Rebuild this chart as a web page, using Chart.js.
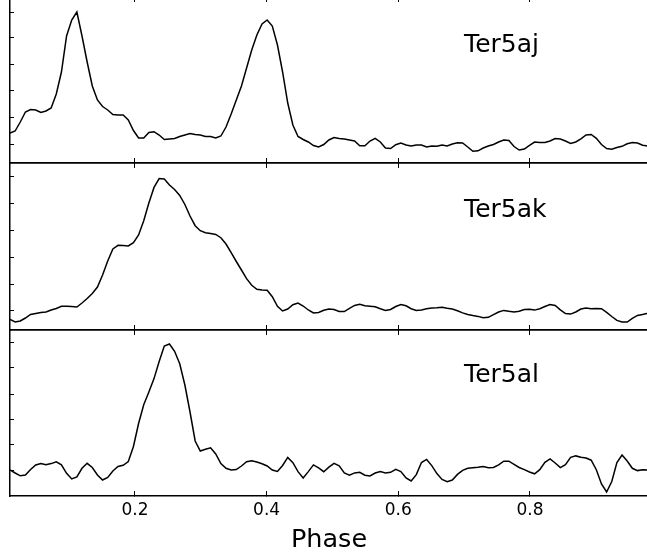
<!DOCTYPE html>
<html>
<head>
<meta charset="utf-8">
<script src="https://cdn.jsdelivr.net/npm/chart.js@4.4.1/dist/chart.umd.min.js"></script>
<style>
  html, body { margin: 0; padding: 0; background: #fff; overflow: hidden; }
  body { width: 647px; height: 558px; position: relative; }
  canvas { position: absolute; left: 0; }
</style>
</head>
<body>
<canvas id="aj" width="660" height="172" style="top:-6px"></canvas>
<canvas id="ak" width="660" height="173" style="top:160px"></canvas>
<canvas id="al" width="660" height="231" style="top:327px"></canvas>
<script>
// pulse profiles, 128 bins per turn, intensity in arbitrary units
const phaseStart = 0.0102;
const binWidth = 1 / 128;
const phaseMin = 0.0102, phaseMax = 0.9793;
const xTicks = [0.2, 0.4, 0.6, 0.8];

const ter5aj = [30,32,41,51,53.5,53,50.5,52,55,69,
  91,127,143,151,127,101,77,63,56.5,53,
  48.5,48,48,43,32.5,25,25,30.5,31.3,28,
  23.5,24,24.5,26.5,28,29.5,28.5,28,26.5,26.5,
  25,27,36,49,63,77,95,113,128,139,
  143,137,118,91,60,38,26.5,23.5,21,17.5,
  16,18.5,23,25.5,24.5,24,23,22,17.3,17.2,
  22,24.7,21,15,14.5,18.3,20,18,17,18,
  18,16,17,16.7,18,17,19,20.2,20,16,
  11.7,12.2,15,17,18.5,21,23,22.5,16.5,13,
  14,17.7,21,20.6,20.5,22,24.5,24,22,19.5,
  21,24.2,28,28.5,24.7,18.5,14.4,13.8,15.5,16.7,
  19.2,20.4,20,17.7,17];

const ter5ak = [10.7,8,9,12,15.5,16.5,17.5,18,20,21.5,
  23.7,23.7,23.5,23,27,31.5,36.5,43,55,69,
  81,84.7,84.4,84,87.3,95,109.3,127,142.6,151.5,
  151,145,140.5,134.5,125.5,114,104.3,99.3,97.3,96.5,
  95.6,92.3,86,77.3,68.5,60,51.3,44.7,40.7,40,
  39.7,33.3,23.7,19,21,25.3,27,24,20,17,
  17.5,19.7,21,20.4,18.5,18.4,21.7,24.6,25.7,24.3,
  23.7,23.2,21.2,19.6,20.5,23.5,25.5,24.2,21.3,19.5,
  20,21.2,22.1,22.3,22.7,21.7,21,19.2,17.1,15.5,
  14.4,13.6,12.2,12.7,15.4,18,19.6,18.7,18,18.8,
  20.4,20.7,19.9,21.3,23.5,25.5,24.6,20.2,16.4,15.9,
  18,21,22,21.3,21.5,21.3,17.7,13.5,9.6,8,
  8,11.6,14.6,15.6,16.7];

const ter5al = [26,23,20.2,21,26.5,31,32.5,31.2,32.4,34.2,
  31.2,22.7,17.1,19,27.7,32.7,28.5,21,16,18.5,
  25,29.5,30.7,34.5,49.5,72.5,91.3,104,117.4,134.5,
  150,152,144.7,132.2,111,84,55,45,46.7,48.2,
  42,32.5,27.7,26,26.5,30,34.3,35.2,34,32.3,
  30,26,24.5,30.5,38.6,33.3,24.4,18,24.4,31.1,
  28.2,24.3,28.9,32.6,30.1,23,20.8,23.1,23.7,20.8,
  20.1,23,24.5,23.1,23.7,26.6,24.5,18,15,21.4,
  33.5,36.6,30.4,22.4,16.5,14.2,16,21.6,25.7,27.8,
  28.3,28.7,29.4,28.3,28.6,31.2,34.8,34.8,31.7,28.5,
  26.4,24,22.2,26.3,33.6,37.1,33,28.4,31.3,38.6,
  40.1,38.8,38,35.8,26.3,12,4,14.5,33.4,41,
  35,27.7,25.4,26.3,26];

const ajTicks = [19, 46, 72, 99, 125, 151];
const akTicks = [19.3, 46, 72.7, 99.3, 126.7, 153.3];
const alTicks = [26, 52, 77, 102, 128, 153];

const phase = ter5aj.map((_, i) => phaseStart + i * binWidth);

const panelLabel = {
  id: 'panelLabel',
  afterDatasetsDraw(chart, args, opts) {
    const { ctx, scales } = chart;
    ctx.save();
    ctx.font = '25px "DejaVu Sans"';
    ctx.fillStyle = '#000';
    ctx.textAlign = 'left';
    ctx.textBaseline = 'alphabetic';
    ctx.fillText(opts.text, scales.x.getPixelForValue(opts.x), scales.y.getPixelForValue(opts.y));
    ctx.restore();
  }
};

function tickAxis(position, showLabels) {
  return {
    type: 'linear',
    position: position,
    min: phaseMin,
    max: phaseMax,
    afterBuildTicks: s => { s.ticks = xTicks.map(v => ({ value: v })); },
    grid: { drawOnChartArea: false, tickLength: -5, color: '#000', lineWidth: 1 },
    border: { display: true, color: '#000', width: 1.5 },
    ticks: {
      display: showLabels,
      color: '#000',
      font: { family: 'DejaVu Sans', size: 17 },
      padding: 9,
      maxRotation: 0,
      autoSkip: false,
      callback: v => v.toFixed(1)
    },
    title: {
      display: showLabels,
      text: 'Phase',
      color: '#000',
      font: { family: 'DejaVu Sans', size: 25.5 },
      padding: { top: 0, bottom: 2 }
    },
    afterFit: s => { s.height = showLabels ? 62 : 0; }
  };
}

function makePanel(id, name, values, yMax, yTicks, labelY, isLast) {
  new Chart(document.getElementById(id), {
    type: 'line',
    data: {
      datasets: [{
        data: values.map((v, i) => ({ x: phase[i], y: v })),
        borderColor: '#000',
        borderWidth: 1.5,
        pointRadius: 0,
        tension: 0,
        fill: false
      }]
    },
    options: {
      responsive: false,
      animation: false,
      devicePixelRatio: 1,
      layout: { padding: { top: 3, bottom: isLast ? 0 : 3, left: 0, right: 12 } },
      plugins: {
        legend: { display: false },
        tooltip: { enabled: false },
        panelLabel: { text: name, x: 0.7, y: labelY }
      },
      scales: {
        x: tickAxis('bottom', isLast),
        xTop: Object.assign(tickAxis('top', false), { afterFit: s => { s.height = 0; } }),
        y: {
          position: 'left',
          min: 0,
          max: yMax,
          afterBuildTicks: s => { s.ticks = yTicks.map(v => ({ value: v })); },
          grid: { drawOnChartArea: false, tickLength: -4, color: '#000', lineWidth: 1 },
          border: { display: true, color: '#000', width: 1.5 },
          ticks: { display: false },
          afterFit: s => { s.width = 10; }
        }
      }
    },
    plugins: [panelLabel]
  });
}

makePanel('aj', 'Ter5aj', ter5aj, 166, ajTicks, 111, false);
makePanel('ak', 'Ter5ak', ter5ak, 167, akTicks, 113, false);
makePanel('al', 'Ter5al', ter5al, 166, alTicks, 114, true);
</script>
</body>
</html>
